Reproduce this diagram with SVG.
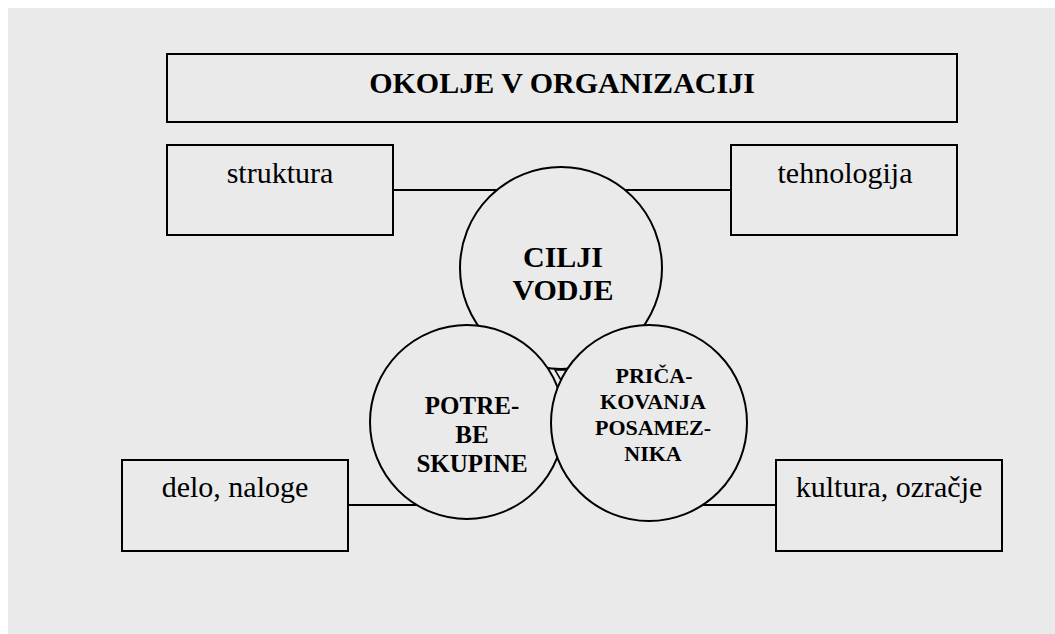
<svg xmlns="http://www.w3.org/2000/svg" width="1055" height="634" viewBox="0 0 1055 634">
<style>
.box{fill:#EAEAEA;stroke:#000;stroke-width:2}
.circ{fill:#EAEAEA;stroke:#000;stroke-width:2}
.con{stroke:#000;stroke-width:2;fill:none}
.lbl{font-size:30px;fill:#000;text-anchor:middle}
.bold{font-weight:bold;fill:#000;text-anchor:middle}
</style>
<rect x="0" y="0" width="1055" height="634" fill="#FFFFFF"/>
<rect x="8" y="8" width="1047" height="626" fill="#EAEAEA"/>
<g id="title">
<rect class="box" x="167" y="54" width="790" height="68"/>
<text class="bold" font-family="Liberation Serif" x="562" y="93" font-size="30">OKOLJE V ORGANIZACIJI</text>
</g>
<g id="connectors">
<line class="con" x1="393" y1="190" x2="497" y2="190"/>
<line class="con" x1="625" y1="190" x2="731" y2="190"/>
<line class="con" x1="348" y1="505" x2="417" y2="505"/>
<line class="con" x1="699" y1="505" x2="776" y2="505"/>
</g>
<g id="struktura">
<rect class="box" x="167" y="145" width="226" height="90"/>
<text class="lbl" font-family="Liberation Serif" x="280" y="183">struktura</text>
</g>
<g id="tehnologija">
<rect class="box" x="731" y="145" width="226" height="90"/>
<text class="lbl" font-family="Liberation Serif" x="845" y="183">tehnologija</text>
</g>
<g id="delo">
<rect class="box" x="122" y="460" width="226" height="91"/>
<text class="lbl" font-family="Liberation Serif" x="235" y="497">delo, naloge</text>
</g>
<g id="kultura">
<rect class="box" x="776" y="460" width="226" height="91"/>
<text class="lbl" font-family="Liberation Serif" x="889" y="497">kultura, ozračje</text>
</g>
<g id="cilji">
<circle class="circ" cx="561" cy="268" r="101"/>
<text class="bold" font-family="Liberation Serif" font-size="30" x="563" y="267">CILJI</text>
<text class="bold" font-family="Liberation Serif" font-size="30" x="563" y="300">VODJE</text>
</g>
<g id="gap">
<path d="M555,370 L568,370 L561.5,381 Z" fill="#EAEAEA" stroke="#000" stroke-width="1.5"/>
</g>
<g id="potrebe">
<circle class="circ" cx="467" cy="422" r="97"/>
<text class="bold" font-family="Liberation Serif" font-size="25" x="472" y="414">POTRE-</text>
<text class="bold" font-family="Liberation Serif" font-size="25" x="472" y="443">BE</text>
<text class="bold" font-family="Liberation Serif" font-size="25" x="472" y="472">SKUPINE</text>
</g>
<g id="pricakovanja">
<circle class="circ" cx="649" cy="423" r="98"/>
<text class="bold" font-family="Liberation Serif" font-size="22" x="654" y="383">PRIČA-</text>
<text class="bold" font-family="Liberation Serif" font-size="22" x="653" y="409">KOVANJA</text>
<text class="bold" font-family="Liberation Serif" font-size="22" x="653" y="435">POSAMEZ-</text>
<text class="bold" font-family="Liberation Serif" font-size="22" x="653" y="461">NIKA</text>
</g>
</svg>
